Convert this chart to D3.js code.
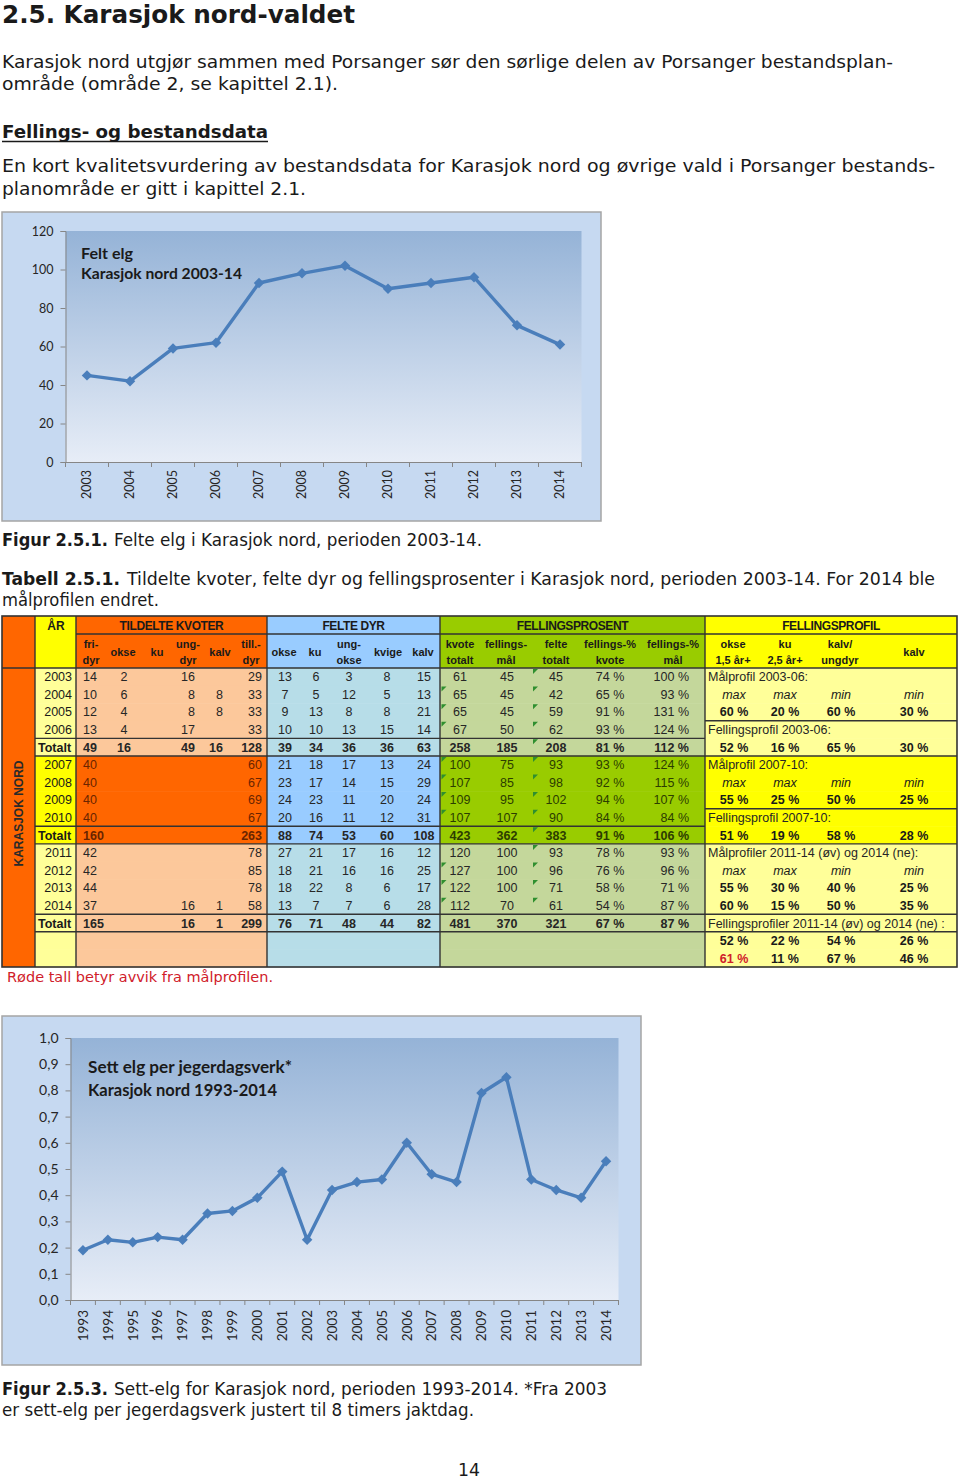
<!DOCTYPE html>
<html>
<head>
<meta charset="utf-8">
<script src="https://cdn.jsdelivr.net/npm/d3@7"></script>
<style>
  body { margin: 0; background: #fff; }
  svg { display: block; }
</style>
</head>
<body>
<div id="page"></div>
<script>
// ---- chart data ----
const feltYears = ["2003", "2004", "2005", "2006", "2007", "2008", "2009", "2010", "2011", "2012", "2013", "2014"];
const feltElg = [45, 42, 59, 62, 93, 98, 102, 90, 93, 96, 71, 61];
const feltTicks = [0, 20, 40, 60, 80, 100, 120];

const settYears = ["1993", "1994", "1995", "1996", "1997", "1998", "1999", "2000", "2001", "2002", "2003",
    "2004", "2005", "2006", "2007", "2008", "2009", "2010", "2011", "2012", "2013", "2014"];
const settElg = [0.19, 0.23, 0.22, 0.24, 0.23, 0.33, 0.34, 0.39, 0.49, 0.23, 0.42,
    0.45, 0.46, 0.60, 0.48, 0.45, 0.79, 0.85, 0.46, 0.42, 0.39, 0.53];
const settTicks = [0, 0.1, 0.2, 0.3, 0.4, 0.5, 0.6, 0.7, 0.8, 0.9, 1.0];

// ---- table data ----
const groupTitles = ["TILDELTE KVOTER", "FELTE DYR", "FELLINGSPROSENT", "FELLINGSPROFIL"];
const kvoteHeads = [["fri-", "dyr"], ["okse"], ["ku"], ["ung-", "dyr"], ["kalv"], ["till.-", "dyr"]];
const felteHeads = [["okse"], ["ku"], ["ung-", "okse"], ["kvige"], ["kalv"]];
const prosentHeads = [["kvote", "totalt"], ["fellings-", "mål"], ["felte", "totalt"], ["fellings-%", "kvote"], ["fellings-%", "mål"]];
const profilHeads = [["okse", "1,5 år+"], ["ku", "2,5 år+"], ["kalv/", "ungdyr"], ["kalv"]];

const aarLabels = ["2003", "2004", "2005", "2006", "Totalt", "2007", "2008", "2009", "2010", "Totalt",
    "2011", "2012", "2013", "2014", "Totalt", "", ""];
const periode = ["a", "a", "a", "a", "a", "b", "b", "b", "b", "b", "a", "a", "a", "a", "a", "a", "a"];
const totalRows = [4, 9, 14];

const kvoter = [
    ["14", "2", "", "16", "", "29"],
    ["10", "6", "", "8", "8", "33"],
    ["12", "4", "", "8", "8", "33"],
    ["13", "4", "", "17", "", "33"],
    ["49", "16", "", "49", "16", "128"],
    ["40", "", "", "", "", "60"],
    ["40", "", "", "", "", "67"],
    ["40", "", "", "", "", "69"],
    ["40", "", "", "", "", "67"],
    ["160", "", "", "", "", "263"],
    ["42", "", "", "", "", "78"],
    ["42", "", "", "", "", "85"],
    ["44", "", "", "", "", "78"],
    ["37", "", "", "16", "1", "58"],
    ["165", "", "", "16", "1", "299"]
];
const felte = [
    ["13", "6", "3", "8", "15"],
    ["7", "5", "12", "5", "13"],
    ["9", "13", "8", "8", "21"],
    ["10", "10", "13", "15", "14"],
    ["39", "34", "36", "36", "63"],
    ["21", "18", "17", "13", "24"],
    ["23", "17", "14", "15", "29"],
    ["24", "23", "11", "20", "24"],
    ["20", "16", "11", "12", "31"],
    ["88", "74", "53", "60", "108"],
    ["27", "21", "17", "16", "12"],
    ["18", "21", "16", "16", "25"],
    ["18", "22", "8", "6", "17"],
    ["13", "7", "7", "6", "28"],
    ["76", "71", "48", "44", "82"]
];
const prosent = [
    ["61", "45", "45", "74 %", "100 %"],
    ["65", "45", "42", "65 %", "93 %"],
    ["65", "45", "59", "91 %", "131 %"],
    ["67", "50", "62", "93 %", "124 %"],
    ["258", "185", "208", "81 %", "112 %"],
    ["100", "75", "93", "93 %", "124 %"],
    ["107", "85", "98", "92 %", "115 %"],
    ["109", "95", "102", "94 %", "107 %"],
    ["107", "107", "90", "84 %", "84 %"],
    ["423", "362", "383", "91 %", "106 %"],
    ["120", "100", "93", "78 %", "93 %"],
    ["127", "100", "96", "76 %", "96 %"],
    ["122", "100", "71", "58 %", "71 %"],
    ["112", "70", "61", "54 %", "87 %"],
    ["481", "370", "321", "67 %", "87 %"]
];
// excel "green corner" markers on kvote totalt / felte totalt
const flagKvote = [0, 1, 1, 1, 0, 1, 1, 1, 1, 0, 0, 1, 1, 1, 0];
const flagFelte = [1, 1, 1, 1, 1, 1, 1, 1, 1, 1, 1, 1, 1, 1, 0];

const profil = [
    { label: "Målprofil 2003-06:" },
    { vals: ["max", "max", "min", "min"], kind: "italic" },
    { vals: ["60 %", "20 %", "60 %", "30 %"], kind: "bold" },
    { label: "Fellingsprofil 2003-06:" },
    { vals: ["52 %", "16 %", "65 %", "30 %"], kind: "bold" },
    { label: "Målprofil 2007-10:" },
    { vals: ["max", "max", "min", "min"], kind: "italic" },
    { vals: ["55 %", "25 %", "50 %", "25 %"], kind: "bold" },
    { label: "Fellingsprofil 2007-10:" },
    { vals: ["51 %", "19 %", "58 %", "28 %"], kind: "bold" },
    { label: "Målprofiler 2011-14 (øv) og 2014 (ne):" },
    { vals: ["max", "max", "min", "min"], kind: "italic" },
    { vals: ["55 %", "30 %", "40 %", "25 %"], kind: "bold" },
    { vals: ["60 %", "15 %", "50 %", "35 %"], kind: "bold" },
    { label: "Fellingsprofiler 2011-14 (øv) og 2014 (ne) :" },
    { vals: ["52 %", "22 %", "54 %", "26 %"], kind: "bold" },
    { vals: ["61 %", "11 %", "67 %", "46 %"], kind: "bold", red: [0] }
];
const profilPeriode = ["a", "a", "a", "a", "a", "b", "b", "b", "b", "b", "a", "a", "a", "a", "a", "a", "a"];

// ---- page ----
const svg = d3.select("#page").append("svg")
    .attr("width", 960)
    .attr("height", 1480);

const bodyFont = "'DejaVu Sans', Verdana, sans-serif";

function ptext(x, y, str, size, len, weight, color) {
    const t = svg.append("text")
        .attr("x", x)
        .attr("y", y)
        .attr("font-family", bodyFont)
        .attr("font-size", size)
        .attr("font-weight", weight || "normal")
        .attr("fill", color || "#1a1a1a")
        .text(str);
    if (len) t.attr("textLength", len).attr("lengthAdjust", "spacingAndGlyphs");
    return t;
}

ptext(2, 23, "2.5. Karasjok nord-valdet", 24, 353, "bold");
ptext(2, 68, "Karasjok nord utgjør sammen med Porsanger sør den sørlige delen av Porsanger bestandsplan-", 18, 891);
ptext(2, 90, "område (område 2, se kapittel 2.1).", 18, 336);
ptext(2, 138, "Fellings- og bestandsdata", 18, 266, "bold");
svg.append("line").attr("x1", 2).attr("x2", 268).attr("y1", 141.5).attr("y2", 141.5)
    .attr("stroke", "#1a1a1a").attr("stroke-width", 1.5);
ptext(2, 172, "En kort kvalitetsvurdering av bestandsdata for Karasjok nord og øvrige vald i Porsanger bestands-", 18, 933);
ptext(2, 195, "planområde er gitt i kapittel 2.1.", 18, 304);

ptext(2, 546, "Figur 2.5.1.", 17, 106, "bold");
ptext(114, 546, "Felte elg i Karasjok nord, perioden 2003-14.", 17, 368);
ptext(2, 585, "Tabell 2.5.1.", 17, 118, "bold");
ptext(127, 585, "Tildelte kvoter, felte dyr og fellingsprosenter i Karasjok nord, perioden 2003-14. For 2014 ble", 17, 808);
ptext(2, 606, "målprofilen endret.", 17, 157);

ptext(7, 982, "Røde tall betyr avvik fra målprofilen.", 14.5, 266, "normal", "#d0202a");

ptext(2, 1395, "Figur 2.5.3.", 17, 106, "bold");
ptext(114, 1395, "Sett-elg for Karasjok nord, perioden 1993-2014. *Fra 2003", 17, 493);
ptext(2, 1416, "er sett-elg per jegerdagsverk justert til 8 timers jaktdag.", 17, 472);
ptext(458, 1476, "14", 18, 22);

// ---- line charts ----
const defs = svg.append("defs");
const grad = defs.append("linearGradient")
    .attr("id", "plotGrad")
    .attr("x1", 0).attr("y1", 0).attr("x2", 0).attr("y2", 1);
grad.append("stop").attr("offset", "0%").attr("stop-color", "#95b3d7");
grad.append("stop").attr("offset", "100%").attr("stop-color", "#e7edf7");

const chartFont = "Lato, 'Open Sans', sans-serif";

function lineChart(cfg) {
    const g = svg.append("g");

    g.append("rect")
        .attr("x", cfg.box[0]).attr("y", cfg.box[1])
        .attr("width", cfg.box[2] - cfg.box[0]).attr("height", cfg.box[3] - cfg.box[1])
        .attr("fill", "#c6d9f1")
        .attr("stroke", "#a5a5a5")
        .attr("stroke-width", 1.5);

    const x = d3.scaleBand().domain(cfg.cats).range([cfg.plot[0], cfg.plot[2]]);
    const y = d3.scaleLinear().domain([0, cfg.max]).range([cfg.plot[3], cfg.plot[1]]);

    g.append("rect")
        .attr("x", cfg.plot[0]).attr("y", cfg.plot[1])
        .attr("width", cfg.plot[2] - cfg.plot[0]).attr("height", cfg.plot[3] - cfg.plot[1])
        .attr("fill", "url(#plotGrad)");

    // y axis
    const ya = g.append("g")
        .attr("transform", `translate(${cfg.plot[0]},0)`)
        .call(d3.axisLeft(y).tickValues(cfg.ticks).tickFormat(cfg.fmt).tickSize(5).tickPadding(7));
    ya.select(".domain").attr("stroke", "#868686");
    ya.selectAll(".tick line").attr("stroke", "#868686");
    ya.selectAll("text")
        .attr("font-family", chartFont)
        .attr("font-size", cfg.yFont)
        .attr("fill", "#262626");

    // x axis (labels only, excel-style boundary ticks added below)
    const xa = g.append("g")
        .attr("transform", `translate(0,${cfg.plot[3]})`)
        .call(d3.axisBottom(x).tickSize(0));
    xa.select(".domain").attr("stroke", "#868686");
    xa.selectAll("text")
        .attr("font-family", chartFont)
        .attr("font-size", cfg.xFont)
        .attr("fill", "#262626")
        .attr("transform", "rotate(-90)")
        .attr("text-anchor", "end")
        .attr("x", -cfg.xGap)
        .attr("y", 0)
        .attr("dy", "0.35em");
    xa.selectAll(".bnd")
        .data(cfg.cats.concat(["end"]))
        .join("line")
        .attr("class", "bnd")
        .attr("x1", d => d === "end" ? x.range()[1] : x(d))
        .attr("x2", d => d === "end" ? x.range()[1] : x(d))
        .attr("y1", 0).attr("y2", 5)
        .attr("stroke", "#868686");

    // title
    cfg.title.forEach((t, i) => {
        g.append("text")
            .attr("x", cfg.titlePos[0])
            .attr("y", cfg.titlePos[1] + i * cfg.titleStep)
            .attr("font-family", chartFont)
            .attr("font-weight", "bold")
            .attr("font-size", cfg.titleFont)
            .attr("fill", "#1a1a1a")
            .attr("textLength", cfg.titleLen[i])
            .attr("lengthAdjust", "spacingAndGlyphs")
            .text(t);
    });

    const cx = d => x(d) + x.bandwidth() / 2;
    const line = d3.line()
        .x((d, i) => cx(cfg.cats[i]))
        .y(d => y(d));

    g.append("path")
        .datum(cfg.values)
        .attr("fill", "none")
        .attr("stroke", "#4a7ebb")
        .attr("stroke-width", 3.4)
        .attr("stroke-linejoin", "round")
        .attr("d", line);

    g.selectAll(".mk")
        .data(cfg.values)
        .join("path")
        .attr("class", "mk")
        .attr("d", d3.symbol(d3.symbolSquare, cfg.markSize))
        .attr("transform", (d, i) => `translate(${cx(cfg.cats[i])},${y(d)}) rotate(45)`)
        .attr("fill", "#4a7ebb");
}

lineChart({
    box: [2, 212, 601, 521],
    plot: [65.5, 231, 581.5, 462],
    cats: feltYears,
    values: feltElg,
    max: 120,
    ticks: feltTicks,
    fmt: d3.format("d"),
    yFont: 12.5,
    xFont: 12.5,
    xGap: 8,
    title: ["Felt elg", "Karasjok nord 2003-14"],
    titlePos: [81, 259],
    titleStep: 20,
    titleFont: 15,
    titleLen: [52, 161],
    markSize: 55
});

lineChart({
    box: [2, 1016, 641, 1365],
    plot: [70.5, 1038, 618.5, 1300],
    cats: settYears,
    values: settElg,
    max: 1.0,
    ticks: settTicks,
    fmt: d => d.toFixed(1).replace(".", ","),
    yFont: 14,
    xFont: 13.5,
    xGap: 10,
    title: ["Sett elg per jegerdagsverk*", "Karasjok nord 1993-2014"],
    titlePos: [88, 1073],
    titleStep: 23,
    titleFont: 17,
    titleLen: [204, 189],
    markSize: 55
});

// ---- table ----
const tblFont = "'Liberation Sans', Arial, sans-serif";
const tg = svg.append("g").attr("font-family", tblFont);

const colEdges = { left: 2, aar: 35, kvoter: 76, felte: 267, prosent: 440, profil: 705, right: 957 };
const tTop = 616, hMid = 634, hBot = 668, tBot = 967;
const rowY = d3.scaleBand().domain(d3.range(aarLabels.length)).range([hBot, tBot]);

const fills = {
    aar: { h: "#ffff00", a: "#ffff99", b: "#ffff00" },
    kvoter: { h: "#ff6600", a: "#fcc89b", b: "#ff6600" },
    felte: { h: "#99ccff", a: "#b7dde8", b: "#99ccff" },
    prosent: { h: "#99cc00", a: "#c4d79b", b: "#99cc00" },
    profil: { h: "#ffff00", a: "#ffff99", b: "#ffff00" }
};
const sections = [
    ["aar", colEdges.aar, colEdges.kvoter],
    ["kvoter", colEdges.kvoter, colEdges.felte],
    ["felte", colEdges.felte, colEdges.prosent],
    ["prosent", colEdges.prosent, colEdges.profil],
    ["profil", colEdges.profil, colEdges.right]
];

// left column
tg.append("rect")
    .attr("x", colEdges.left).attr("y", tTop)
    .attr("width", colEdges.aar - colEdges.left).attr("height", tBot - tTop)
    .attr("fill", "#ff6600");

// header backgrounds
sections.forEach(([key, x0, x1]) => {
    tg.append("rect")
        .attr("x", x0).attr("y", tTop)
        .attr("width", x1 - x0).attr("height", hBot - tTop)
        .attr("fill", fills[key].h);
});

// body backgrounds
sections.forEach(([key, x0, x1]) => {
    const per = key === "profil" ? profilPeriode : periode;
    tg.selectAll(".bg-" + key)
        .data(per)
        .join("rect")
        .attr("x", x0)
        .attr("y", (d, i) => rowY(i))
        .attr("width", x1 - x0)
        .attr("height", rowY.bandwidth() + 0.5)
        .attr("fill", d => fills[key][d]);
});

// lines
const lineCol = "#333";
function hline(x0, x1, y, w) {
    tg.append("line").attr("x1", x0).attr("x2", x1).attr("y1", y).attr("y2", y)
        .attr("stroke", lineCol).attr("stroke-width", w || 1.4);
}
function vline(x, y0, y1, w) {
    tg.append("line").attr("x1", x).attr("x2", x).attr("y1", y0).attr("y2", y1)
        .attr("stroke", lineCol).attr("stroke-width", w || 1.4);
}
hline(colEdges.kvoter, colEdges.right, hMid);
hline(colEdges.left, colEdges.right, hBot);
totalRows.forEach(r => {
    hline(colEdges.aar, colEdges.profil, rowY(r));
    hline(colEdges.aar, colEdges.right, rowY(r) + rowY.bandwidth());
});
[3, 8, 14].forEach(r => hline(colEdges.profil, colEdges.right, rowY(r)));
[colEdges.aar, colEdges.kvoter, colEdges.felte, colEdges.prosent, colEdges.profil]
    .forEach(x => vline(x, tTop, tBot));
tg.append("rect")
    .attr("x", colEdges.left).attr("y", tTop)
    .attr("width", colEdges.right - colEdges.left).attr("height", tBot - tTop)
    .attr("fill", "none").attr("stroke", lineCol).attr("stroke-width", 1.6);

// header text
function htext(x, y, str, size, anchor) {
    tg.append("text")
        .attr("x", x).attr("y", y)
        .attr("dy", "0.35em")
        .attr("text-anchor", anchor || "middle")
        .attr("font-size", size)
        .attr("font-weight", "bold")
        .attr("fill", "#1a1a1a")
        .text(str);
}
htext(56, 626, "ÅR", 12);
const groupCenters = [171.5, 353.5, 572.5, 831];
groupTitles.forEach((t, i) => {
    tg.append("text")
        .attr("x", groupCenters[i]).attr("y", 626)
        .attr("dy", "0.35em")
        .attr("text-anchor", "middle")
        .attr("font-size", 12)
        .attr("font-weight", "bold")
        .attr("letter-spacing", -0.4)
        .attr("fill", "#1a1a1a")
        .text(t);
});

const kvoteHeadX = [91, 123, 157, 188, 220, 251];
const felteHeadX = [284, 315, 349, 388, 423];
const prosentHeadX = [460, 506, 556, 610, 673];
const profilHeadX = [733, 785, 840, 914];
function subHeads(heads, xs) {
    heads.forEach((h, i) => {
        if (h.length === 1) htext(xs[i], 652, h[0], 11);
        else {
            htext(xs[i], 644, h[0], 11);
            htext(xs[i], 660, h[1], 11);
        }
    });
}
subHeads(kvoteHeads, kvoteHeadX);
subHeads(felteHeads, felteHeadX);
subHeads(prosentHeads, prosentHeadX);
subHeads(profilHeads, profilHeadX);

// KARASJOK NORD vertical label
tg.append("text")
    .attr("transform", `translate(18.5,${(hBot + tBot) / 2 - 4}) rotate(-90)`)
    .attr("text-anchor", "middle")
    .attr("dy", "0.35em")
    .attr("font-size", 12)
    .attr("font-weight", "bold")
    .attr("fill", "#2a2a2a")
    .text("KARASJOK NORD");

// body text
const kvoteCols = [[83, "start"], [124, "middle"], [157, "middle"], [195, "end"], [223, "end"], [262, "end"]];
const felteCols = [[285, "middle"], [316, "middle"], [349, "middle"], [387, "middle"], [424, "middle"]];
const prosentCols = [[460, "middle"], [507, "middle"], [556, "middle"], [610, "middle"], [689, "end"]];
const profilCols = [734, 785, 841, 914];

function cell(x, row, str, anchor, bold, color, italic) {
    if (!str) return;
    tg.append("text")
        .attr("x", x)
        .attr("y", rowY(row) + rowY.bandwidth() / 2)
        .attr("dy", "0.36em")
        .attr("text-anchor", anchor)
        .attr("font-size", 12.5)
        .attr("font-weight", bold ? "bold" : "normal")
        .attr("font-style", italic ? "italic" : "normal")
        .attr("fill", color)
        .text(str);
}

aarLabels.forEach((a, r) => {
    const bold = totalRows.includes(r);
    cell(bold ? 38 : 72, r, a, bold ? "start" : "end", bold, "#1a1a1a");
});
kvoter.forEach((row, r) => {
    const bold = totalRows.includes(r);
    const col = periode[r] === "b" ? "#6a2400" : "#262626";
    row.forEach((v, c) => cell(kvoteCols[c][0], r, v, kvoteCols[c][1], bold, col));
});
felte.forEach((row, r) => {
    const bold = totalRows.includes(r);
    row.forEach((v, c) => cell(felteCols[c][0], r, v, felteCols[c][1], bold, "#262626"));
});
prosent.forEach((row, r) => {
    const bold = totalRows.includes(r);
    const col = periode[r] === "b" ? "#2c3d00" : "#262626";
    row.forEach((v, c) => cell(prosentCols[c][0], r, v, prosentCols[c][1], bold, col));
});

// excel green corner flags
function flag(x, r) {
    const y0 = rowY(r) + 1;
    tg.append("path")
        .attr("d", `M${x},${y0}L${x + 5},${y0}L${x},${y0 + 5}Z`)
        .attr("fill", "#2f8f2f");
}
flagKvote.forEach((f, r) => { if (f) flag(colEdges.prosent + 1.5, r); });
flagFelte.forEach((f, r) => { if (f) flag(533, r); });

profil.forEach((p, r) => {
    if (p.label) {
        cell(708, r, p.label, "start", false, "#262626");
    } else {
        p.vals.forEach((v, c) => {
            const red = p.red && p.red.includes(c);
            cell(profilCols[c], r, v, "middle", p.kind === "bold", red ? "#d0202a" : "#1a1a1a", p.kind === "italic");
        });
    }
});
</script>
</body>
</html>
